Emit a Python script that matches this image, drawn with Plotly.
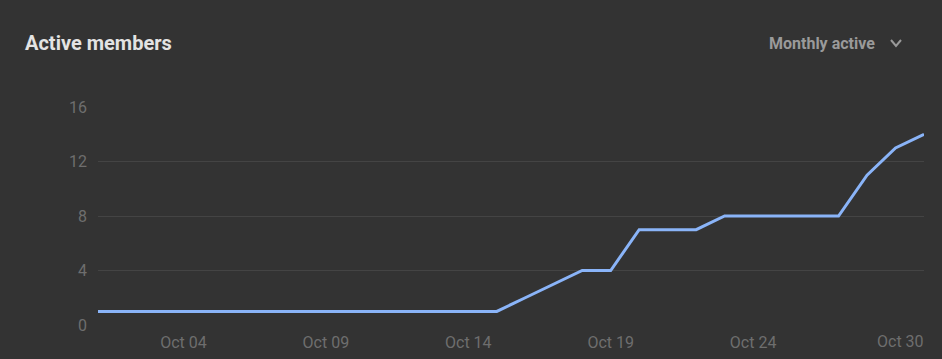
import plotly.graph_objects as go
import pandas as pd

# ---- data ----
dates = pd.date_range("2023-10-01", "2023-10-30", freq="D")
members = [1, 1, 1, 1, 1, 1, 1, 1, 1, 1, 1, 1, 1, 1, 1,
           2, 3, 4, 4, 7, 7, 7, 8, 8, 8, 8, 8, 11, 13, 14]
tick_dates = ["2023-10-04", "2023-10-09", "2023-10-14", "2023-10-19", "2023-10-24"]
tick_labels = ["Oct 04", "Oct 09", "Oct 14", "Oct 19", "Oct 24"]
last_label = "Oct 30"
y_ticks = [0, 4, 8, 12, 16]

BG = "#333333"
TICK = "#6e6e6e"
GRID = "#444444"
FS = 16

fig = go.Figure()
fig.add_trace(go.Scatter(
    x=dates, y=members, mode="lines",
    line=dict(color="#8ab4f8", width=3),
    hoverinfo="x+y", showlegend=False,
))

fig.update_layout(
    width=942, height=359,
    paper_bgcolor=BG, plot_bgcolor=BG,
    margin=dict(l=98, r=18, t=107, b=34, autoexpand=False),
    font=dict(family="Roboto", color=TICK, size=FS),
    xaxis=dict(
        range=[dates[0], dates[-1]],
        tickvals=tick_dates, ticktext=tick_labels,
        showgrid=False, zeroline=False, showline=False,
        ticks="", ticklabelstandoff=6, automargin=False,
        tickfont=dict(color=TICK, size=FS),
    ),
    yaxis=dict(
        range=[0, 16], tickvals=y_ticks,
        showgrid=True, gridcolor=GRID, gridwidth=1,
        zeroline=False, showline=False, ticks="",
        ticklabelstandoff=10, automargin=False,
        tickfont=dict(color=TICK, size=FS),
    ),
)

# last x label, kept inside the plot edge
fig.add_annotation(
    x=dates[-1], y=0, xref="x", yref="y",
    text=last_label, showarrow=False,
    xanchor="right", yanchor="middle", yshift=-16, xshift=2,
    font=dict(family="Roboto", color=TICK, size=FS),
)

# title
fig.add_annotation(
    text="<b>Active members</b>", xref="paper", yref="paper",
    x=-75 / 826, y=1 + (107 - 43) / 218,
    xanchor="left", yanchor="middle", showarrow=False,
    font=dict(family="Roboto", color="#e3e3e3", size=20),
)
# dropdown label
fig.add_annotation(
    text="<b>Monthly active</b>", xref="paper", yref="paper",
    x=(877 - 98) / 826, y=1 + (107 - 43) / 218,
    xanchor="right", yanchor="middle", showarrow=False,
    font=dict(family="Roboto", color="#9a9a9a", size=16),
)
# chevron
x0, x1, x2 = (891 - 98) / 826, (896 - 98) / 826, (901 - 98) / 826
ya, yb = (325 - 40) / 218, (325 - 46) / 218
fig.add_shape(
    type="path", xref="paper", yref="paper",
    path=f"M {x0} {ya} L {x1} {yb} L {x2} {ya}",
    line=dict(color="#9a9a9a", width=2),
)

fig.write_html("out.html", config={"displayModeBar": False},
               post_script="document.body.style.margin='0';")
